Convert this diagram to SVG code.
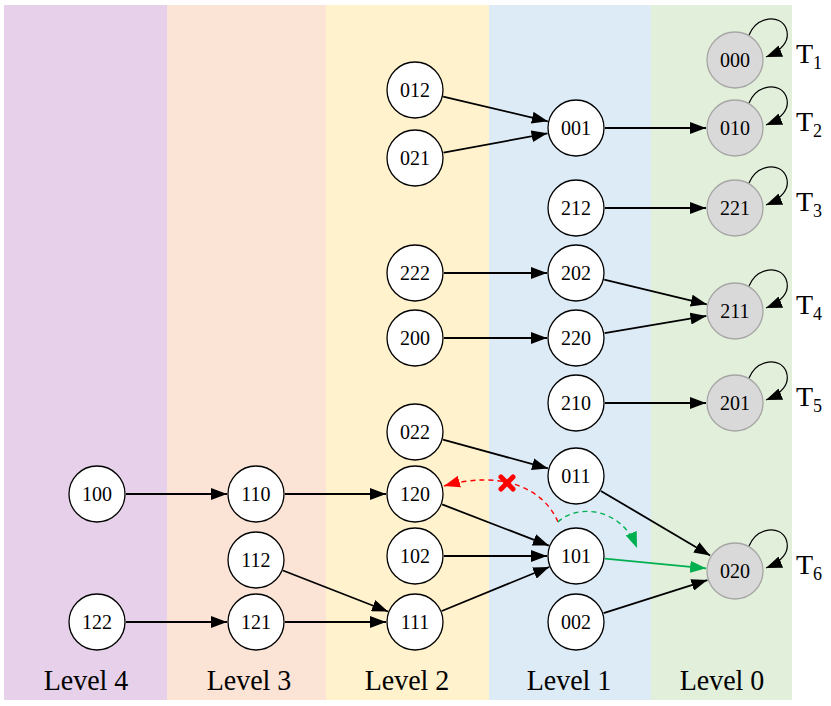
<svg xmlns="http://www.w3.org/2000/svg" width="831" height="706" viewBox="0 0 831 706">
<style>
.band{stroke:none}
.n circle{fill:#fff;stroke:#000;stroke-width:1.3}
.g circle{fill:#D9D9D9;stroke:#A6A6A6;stroke-width:1.3}
text{font-family:'Liberation Serif','Times New Roman',Times,serif;fill:#000}
.nt{font-size:20px;text-anchor:middle}
.lv{font-size:28px;text-anchor:middle}
.t{font-size:28px}
.sub{font-size:18px}
.e{stroke:#000;stroke-width:1.8;fill:none;marker-end:url(#ah)}
.loop{stroke:#000;stroke-width:1.2;fill:none;marker-end:url(#ah)}
</style>
<defs>
<marker id="ah" markerUnits="userSpaceOnUse" markerWidth="16" markerHeight="12" refX="16" refY="6" orient="auto"><path d="M0,0 L16,6 L0,12 Z" fill="#000" stroke="none"/></marker>
<marker id="ahg" markerUnits="userSpaceOnUse" markerWidth="16" markerHeight="12" refX="16" refY="6" orient="auto"><path d="M0,0 L16,6 L0,12 Z" fill="#00B050" stroke="none"/></marker>
<marker id="ahr" markerUnits="userSpaceOnUse" markerWidth="16" markerHeight="12" refX="16" refY="6" orient="auto"><path d="M0,0 L16,6 L0,12 Z" fill="#FF0000" stroke="none"/></marker>
</defs>
<g id="bands">
<rect class="band" x="4" y="5" width="163" height="695" fill="#E7D0E9"/>
<rect class="band" x="167" y="5" width="159" height="695" fill="#FBE4D6"/>
<rect class="band" x="326" y="5" width="163" height="695" fill="#FFF2CC"/>
<rect class="band" x="489" y="5" width="162" height="695" fill="#DDEBF7"/>
<rect class="band" x="651" y="5" width="141" height="695" fill="#E2EFDA"/>
</g>
<g id="connectors">
<line class="e" x1="443.2" y1="96.7" x2="547.8" y2="121.3"/>
<line class="e" x1="443.5" y1="152.7" x2="547.5" y2="133.3"/>
<line class="e" x1="605" y1="128" x2="706" y2="128"/>
<line class="e" x1="605" y1="208" x2="706" y2="208"/>
<line class="e" x1="444" y1="273" x2="547" y2="273"/>
<line class="e" x1="444" y1="338" x2="547" y2="338"/>
<line class="e" x1="604.2" y1="279.7" x2="706.8" y2="304.3"/>
<line class="e" x1="604.6" y1="333.1" x2="706.4" y2="315.9"/>
<line class="e" x1="605" y1="403" x2="706" y2="403"/>
<line class="e" x1="443" y1="439.6" x2="548" y2="468.4"/>
<line class="e" x1="600.9" y1="490.9" x2="710.1" y2="555.6"/>
<line x1="604.9" y1="558.7" x2="706.1" y2="568.3" stroke="#00B050" stroke-width="1.8" marker-end="url(#ahg)"/>
<line class="e" x1="603.6" y1="613.1" x2="707.4" y2="580.1"/>
<line class="e" x1="126" y1="494" x2="227" y2="494"/>
<line class="e" x1="285" y1="494" x2="386" y2="494"/>
<line class="e" x1="442.1" y1="504.4" x2="548.9" y2="545.6"/>
<line class="e" x1="444" y1="556" x2="547" y2="556"/>
<line class="e" x1="441.8" y1="611" x2="549.2" y2="567"/>
<line class="e" x1="283" y1="570.5" x2="388" y2="611.5"/>
<line class="e" x1="285" y1="622" x2="386" y2="622"/>
<line class="e" x1="126" y1="622" x2="227" y2="622"/>
<path class="loop" d="M749,35 C757,16 780,14 786,28 C791,41 781,51 766,57"/>
<path class="loop" d="M749,103 C757,84 780,82 786,96 C791,109 781,119 766,125"/>
<path class="loop" d="M749,183 C757,164 780,162 786,176 C791,189 781,199 766,205"/>
<path class="loop" d="M749,286 C757,267 780,265 786,279 C791,292 781,302 766,308"/>
<path class="loop" d="M749,378 C757,359 780,357 786,371 C791,384 781,394 766,400"/>
<path class="loop" d="M749,546 C757,527 780,525 786,539 C791,552 781,562 766,568"/>
<path d="M558,522 C543,487 500,470 444,486" fill="none" stroke="#FF0000" stroke-width="1.4" stroke-dasharray="5,4" marker-end="url(#ahr)"/>
<path d="M558,522 C575,505 620,505 637,548" fill="none" stroke="#00B050" stroke-width="1.4" stroke-dasharray="5,4" marker-end="url(#ahg)"/>
<g id="cross" stroke="#FF0000" stroke-width="5" stroke-linecap="round">
<line x1="501" y1="477" x2="513" y2="489"/>
<line x1="513" y1="477" x2="501" y2="489"/>
</g>
</g>
<g id="n000" class="g"><circle cx="735" cy="60" r="28"/><text class="nt" x="735" y="67">000</text></g>
<g id="n010" class="g"><circle cx="735" cy="128" r="28"/><text class="nt" x="735" y="135">010</text></g>
<g id="n221" class="g"><circle cx="735" cy="208" r="28"/><text class="nt" x="735" y="215">221</text></g>
<g id="n211" class="g"><circle cx="735" cy="311" r="28"/><text class="nt" x="735" y="318">211</text></g>
<g id="n201" class="g"><circle cx="735" cy="403" r="28"/><text class="nt" x="735" y="410">201</text></g>
<g id="n020" class="g"><circle cx="735" cy="571" r="28"/><text class="nt" x="735" y="578">020</text></g>
<g id="n001" class="n"><circle cx="576" cy="128" r="28"/><text class="nt" x="576" y="135">001</text></g>
<g id="n212" class="n"><circle cx="576" cy="208" r="28"/><text class="nt" x="576" y="215">212</text></g>
<g id="n202" class="n"><circle cx="576" cy="273" r="28"/><text class="nt" x="576" y="280">202</text></g>
<g id="n220" class="n"><circle cx="576" cy="338" r="28"/><text class="nt" x="576" y="345">220</text></g>
<g id="n210" class="n"><circle cx="576" cy="403" r="28"/><text class="nt" x="576" y="410">210</text></g>
<g id="n011" class="n"><circle cx="576" cy="476" r="28"/><text class="nt" x="576" y="483">011</text></g>
<g id="n101" class="n"><circle cx="576" cy="556" r="28"/><text class="nt" x="576" y="563">101</text></g>
<g id="n002" class="n"><circle cx="576" cy="622" r="28"/><text class="nt" x="576" y="629">002</text></g>
<g id="n012" class="n"><circle cx="415" cy="90" r="28"/><text class="nt" x="415" y="97">012</text></g>
<g id="n021" class="n"><circle cx="415" cy="158" r="28"/><text class="nt" x="415" y="165">021</text></g>
<g id="n222" class="n"><circle cx="415" cy="273" r="28"/><text class="nt" x="415" y="280">222</text></g>
<g id="n200" class="n"><circle cx="415" cy="338" r="28"/><text class="nt" x="415" y="345">200</text></g>
<g id="n022" class="n"><circle cx="415" cy="432" r="28"/><text class="nt" x="415" y="439">022</text></g>
<g id="n120" class="n"><circle cx="415" cy="494" r="28"/><text class="nt" x="415" y="501">120</text></g>
<g id="n102" class="n"><circle cx="415" cy="556" r="28"/><text class="nt" x="415" y="563">102</text></g>
<g id="n111" class="n"><circle cx="415" cy="622" r="28"/><text class="nt" x="415" y="629">111</text></g>
<g id="n110" class="n"><circle cx="256" cy="494" r="28"/><text class="nt" x="256" y="501">110</text></g>
<g id="n112" class="n"><circle cx="256" cy="560" r="28"/><text class="nt" x="256" y="567">112</text></g>
<g id="n121" class="n"><circle cx="256" cy="622" r="28"/><text class="nt" x="256" y="629">121</text></g>
<g id="n100" class="n"><circle cx="97" cy="494" r="28"/><text class="nt" x="97" y="501">100</text></g>
<g id="n122" class="n"><circle cx="97" cy="622" r="28"/><text class="nt" x="97" y="629">122</text></g>
<g id="tlabels">
<text class="t" x="796" y="63">T<tspan class="sub" dy="6">1</tspan></text>
<text class="t" x="796" y="131">T<tspan class="sub" dy="6">2</tspan></text>
<text class="t" x="796" y="211">T<tspan class="sub" dy="6">3</tspan></text>
<text class="t" x="796" y="314">T<tspan class="sub" dy="6">4</tspan></text>
<text class="t" x="796" y="406">T<tspan class="sub" dy="6">5</tspan></text>
<text class="t" x="796" y="574">T<tspan class="sub" dy="6">6</tspan></text>
</g>
<g id="levels">
<text class="lv" transform="translate(86,690) scale(1,1.08)">Level 4</text>
<text class="lv" transform="translate(249,690) scale(1,1.08)">Level 3</text>
<text class="lv" transform="translate(407,690) scale(1,1.08)">Level 2</text>
<text class="lv" transform="translate(569,690) scale(1,1.08)">Level 1</text>
<text class="lv" transform="translate(722,690) scale(1,1.08)">Level 0</text>
</g>
</svg>
